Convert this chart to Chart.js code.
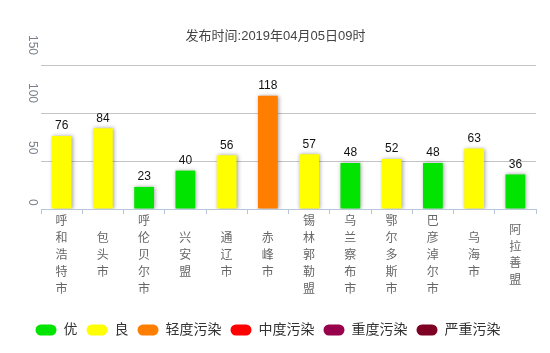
<!DOCTYPE html>
<html>
<head>
<meta charset="utf-8">
<script src="https://cdn.jsdelivr.net/npm/chart.js@4/dist/chart.umd.min.js"></script>
<style>
  html, body { margin: 0; padding: 0; background: #fff; }
  #wrap { width: 550px; height: 353px; }
</style>
</head>
<body>
<div id="wrap"><canvas id="aqi"></canvas></div>
<script>
// AQI by city
const cities = ['呼和浩特市', '包头市', '呼伦贝尔市', '兴安盟', '通辽市', '赤峰市',
    '锡林郭勒盟', '乌兰察布市', '鄂尔多斯市', '巴彦淖尔市', '乌海市', '阿拉善盟'];
const aqiValues = [76, 84, 23, 40, 56, 118, 57, 48, 52, 48, 63, 36];
const yTicks = [0, 50, 100, 150];
const titleText = '发布时间:2019年04月05日09时';

const levelNames = ['优', '良', '轻度污染', '中度污染', '重度污染', '严重污染'];
const levelColors = ['#00e400', '#ffff00', '#ff7e00', '#ff0000', '#99004c', '#7e0023'];
const levelLimits = [50, 100, 150, 200, 300, Infinity];

const FONT = '"Liberation Sans", "Noto Sans CJK SC", sans-serif';

function colorFor(v) {
    const i = levelLimits.findIndex(lim => v <= lim);
    return levelColors[i];
}

// soft grey halo round the bars
const barShadow = {
    id: 'barShadow',
    beforeDatasetsDraw(chart) {
        const ctx = chart.ctx;
        ctx.save();
        ctx.shadowColor = 'rgba(0,0,0,0.35)';
        ctx.shadowBlur = 4;
        ctx.shadowOffsetX = 1;
        ctx.shadowOffsetY = 0;
    },
    afterDatasetsDraw(chart) {
        chart.ctx.restore();
    }
};

// numbers above bars, rotated y tick labels, and the title (centred on the canvas)
const extraText = {
    id: 'extraText',
    afterDatasetsDraw(chart) {
        const ctx = chart.ctx;
        const meta = chart.getDatasetMeta(0);
        ctx.save();
        ctx.font = '12px ' + FONT;
        ctx.fillStyle = '#111';
        ctx.textAlign = 'center';
        ctx.textBaseline = 'middle';
        meta.data.forEach((bar, i) => {
            ctx.fillText(String(aqiValues[i]), bar.x, bar.y - 10);
        });

        const yScale = chart.scales.y;
        ctx.fillStyle = '#7a7f8a';
        yTicks.forEach(v => {
            const label = String(v);
            const w = ctx.measureText(label).width;
            const py = yScale.getPixelForValue(v);
            ctx.save();
            ctx.translate(32, py - w);
            ctx.rotate(Math.PI / 2);
            ctx.fillText(label, 0, 0);
            ctx.restore();
        });

        ctx.font = '13px ' + FONT;
        ctx.fillStyle = '#444';
        ctx.fillText(titleText, chart.width / 2 + 0.5, 36);
        ctx.restore();
    }
};

new Chart(document.getElementById('aqi'), {
    type: 'bar',
    data: {
        labels: cities.map(c => c.split('')),
        datasets: [{
            data: aqiValues,
            backgroundColor: aqiValues.map(colorFor),
            borderWidth: 0,
            barPercentage: 0.6,
            categoryPercentage: 0.8
        }]
    },
    options: {
        responsive: true,
        maintainAspectRatio: false,
        animation: false,
        layout: { padding: { left: 0, right: 14, top: 65, bottom: 6 } },
        scales: {
            x: {
                grid: {
                    drawOnChartArea: false,
                    drawTicks: true,
                    tickLength: 5,
                    color: '#b8c6dc'
                },
                border: { display: true, color: '#b8c6dc' },
                ticks: {
                    color: '#666',
                    font: { size: 12, family: FONT, lineHeight: 1.4 },
                    crossAlign: 'center',
                    padding: 8,
                    minRotation: 0,
                    maxRotation: 0,
                    autoSkip: false
                },
                afterFit(scale) { scale.height = 105; }
            },
            y: {
                min: 0,
                max: 150,
                ticks: { display: false, stepSize: 50 },
                grid: {
                    drawTicks: false,
                    color: ctx => ctx.tick && ctx.tick.value === 0 ? 'rgba(0,0,0,0)' : '#c4c4c4'
                },
                border: { display: false },
                afterFit(scale) { scale.width = 41; }
            }
        },
        plugins: {
            title: { display: false },
            legend: {
                position: 'bottom',
                onClick: null,
                labels: {
                    color: '#333',
                    font: { size: 14, family: FONT },
                    boxWidth: 21,
                    boxHeight: 11,
                    padding: 9,
                    useBorderRadius: true,
                    borderRadius: 5,
                    generateLabels() {
                        return levelNames.map((name, i) => ({
                            text: name,
                            fillStyle: levelColors[i],
                            strokeStyle: levelColors[i],
                            lineWidth: 0,
                            borderRadius: 5.5,
                            fontColor: '#333',
                            hidden: false,
                            index: i
                        }));
                    }
                }
            },
            tooltip: { enabled: false }
        }
    },
    plugins: [barShadow, extraText]
});
</script>
</body>
</html>
